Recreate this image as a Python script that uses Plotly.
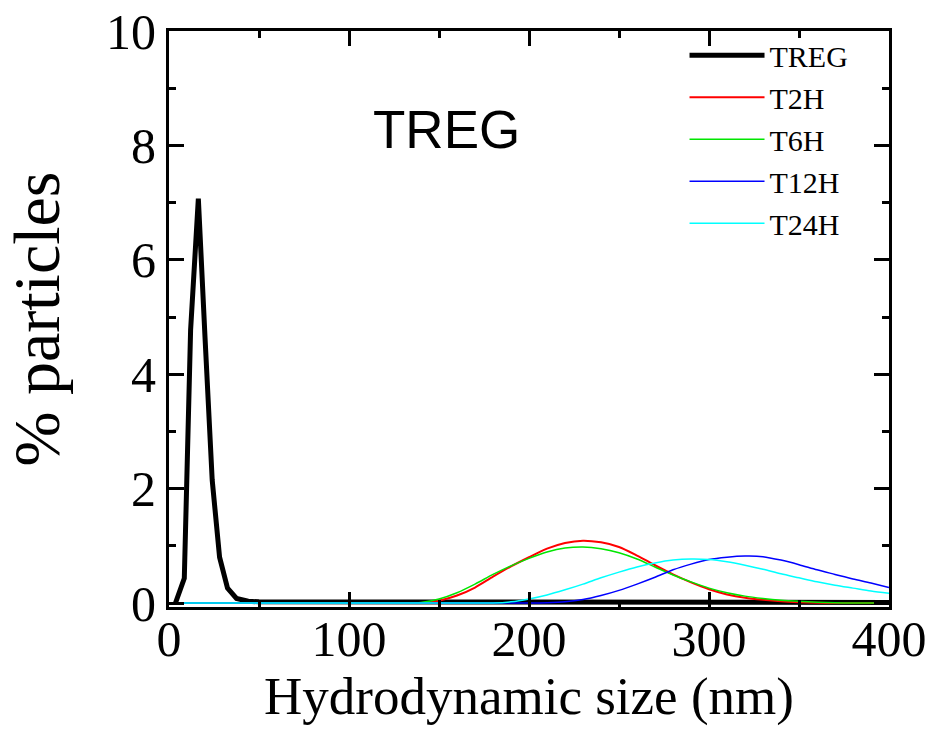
import plotly.graph_objects as go

# ---- data ----
treg_x = [3.6, 8.5, 12.0, 16.3, 20.0, 24.0, 28.1, 32.5, 37.5, 44.0, 50, 60, 80, 100, 150, 200, 250, 300, 350, 400]
treg_y = [0.0, 0.43, 4.77, 7.07, 4.65, 2.15, 0.80, 0.26, 0.08, 0.03, 0.02, 0.02, 0.01, 0.01, 0.01, 0.01, 0.01, 0.01, 0.01, 0.01]

t2h_x = [4, 60, 100, 120, 130, 140, 150, 160, 170, 180, 190, 200, 210, 220, 230, 240, 250, 260, 270, 280,
         290, 300, 310, 320, 330, 340, 350, 360, 370, 380, 390, 400]
t2h_y = [0.0, 0.0, 0.0, 0.0, 0.0, 0.0, 0.04, 0.13, 0.27, 0.46, 0.64, 0.80, 0.95, 1.05, 1.09, 1.06, 0.98, 0.83, 0.66, 0.50,
         0.36, 0.24, 0.15, 0.09, 0.055, 0.03, 0.015, 0.005, 0.0, 0.0, 0.0, 0.0]

t6h_x = [4, 60, 100, 120, 130, 140, 150, 160, 170, 180, 190, 200, 210, 220, 230, 240, 250, 260, 270, 280,
         290, 300, 310, 320, 330, 340, 350, 360, 370, 380, 390, 400]
t6h_y = [0.0, 0.0, 0.0, 0.0, 0.0, 0.01, 0.07, 0.18, 0.33, 0.50, 0.65, 0.78, 0.89, 0.96, 0.98, 0.95, 0.88, 0.77, 0.63, 0.49,
         0.37, 0.26, 0.18, 0.12, 0.08, 0.05, 0.03, 0.015, 0.005, 0.0, 0.0, 0.0]

t12h_x = [4, 60, 100, 150, 180, 200, 210, 220, 230, 240, 250, 260, 270, 280, 290, 300, 310, 320, 330, 340,
          350, 360, 370, 380, 390, 400]
t12h_y = [0.0, 0.0, 0.0, 0.0, 0.0, 0.0, 0.005, 0.02, 0.06, 0.13, 0.22, 0.33, 0.45, 0.58, 0.68, 0.76, 0.80, 0.82, 0.81, 0.75,
          0.67, 0.58, 0.50, 0.42, 0.35, 0.27]

t24h_x = [4, 60, 100, 150, 170, 180, 190, 200, 210, 220, 230, 240, 250, 260, 270, 280, 290, 300, 310, 320,
          330, 340, 350, 360, 370, 380, 390, 400]
t24h_y = [0.0, 0.0, 0.0, 0.0, 0.0, 0.0, 0.02, 0.07, 0.14, 0.23, 0.33, 0.44, 0.54, 0.63, 0.70, 0.75, 0.77, 0.76, 0.72, 0.66,
          0.59, 0.51, 0.44, 0.37, 0.31, 0.26, 0.21, 0.17]

x_ticks = [0, 100, 200, 300, 400]
y_ticks = [0, 2, 4, 6, 8, 10]

serif = "Liberation Serif, Times New Roman, serif"
sans = "Liberation Sans, Arial, sans-serif"

fig = go.Figure()
fig.add_trace(go.Scatter(x=treg_x, y=treg_y, mode="lines", name="TREG",
                         line=dict(color="black", width=5)))
fig.add_trace(go.Scatter(x=t2h_x, y=t2h_y, mode="lines", name="T2H",
                         line=dict(color="#FF0000", width=2, shape="spline", smoothing=0.8)))
fig.add_trace(go.Scatter(x=t6h_x, y=t6h_y, mode="lines", name="T6H",
                         line=dict(color="#00E600", width=1.5, shape="spline", smoothing=0.8)))
fig.add_trace(go.Scatter(x=t12h_x, y=t12h_y, mode="lines", name="T12H",
                         line=dict(color="#0000FF", width=1.5, shape="spline", smoothing=0.8)))
fig.add_trace(go.Scatter(x=t24h_x, y=t24h_y, mode="lines", name="T24H",
                         line=dict(color="#00FFFF", width=1.5, shape="spline", smoothing=0.8)))

fig.add_annotation(text="TREG", xref="x", yref="y", x=154, y=8.27, showarrow=False,
                   font=dict(family=sans, size=53, color="black"))

axis_common = dict(showgrid=False, zeroline=False, showline=True, linecolor="black", linewidth=3,
                   ticks="inside", ticklen=15, tickwidth=2.5, tickcolor="black", mirror="allticks",
                   automargin=False,
                   tickfont=dict(family=serif, size=50, color="black"))

fig.update_xaxes(range=[0, 400], tickvals=x_ticks, ticktext=[str(v) for v in x_ticks],
                 minor=dict(ticks="inside", ticklen=7, tickwidth=2.5, tickcolor="black", dtick=50, tick0=0),
                 ticklabelstandoff=-14,
                 title=dict(text="Hydrodynamic size (nm)", font=dict(family=serif, size=53, color="black"), standoff=0),
                 **axis_common)
fig.update_yaxes(range=[-0.07, 10], tickvals=y_ticks, ticktext=[str(v) for v in y_ticks],
                 minor=dict(ticks="inside", ticklen=7, tickwidth=2.5, tickcolor="black", dtick=1, tick0=0),
                 title=dict(text="% particles", font=dict(family=serif, size=66, color="black"), standoff=30),
                 **axis_common)

fig.update_layout(width=933, height=734, margin=dict(l=169, r=44, t=31, b=127),
                  paper_bgcolor="white", plot_bgcolor="white",
                  legend=dict(x=0.716, y=1.003, xanchor="left", yanchor="top", bgcolor="rgba(0,0,0,0)",
                              font=dict(family=serif, size=30, color="black"), tracegroupgap=0, itemwidth=75),
                  showlegend=True)

fig.write_html("out.html")
